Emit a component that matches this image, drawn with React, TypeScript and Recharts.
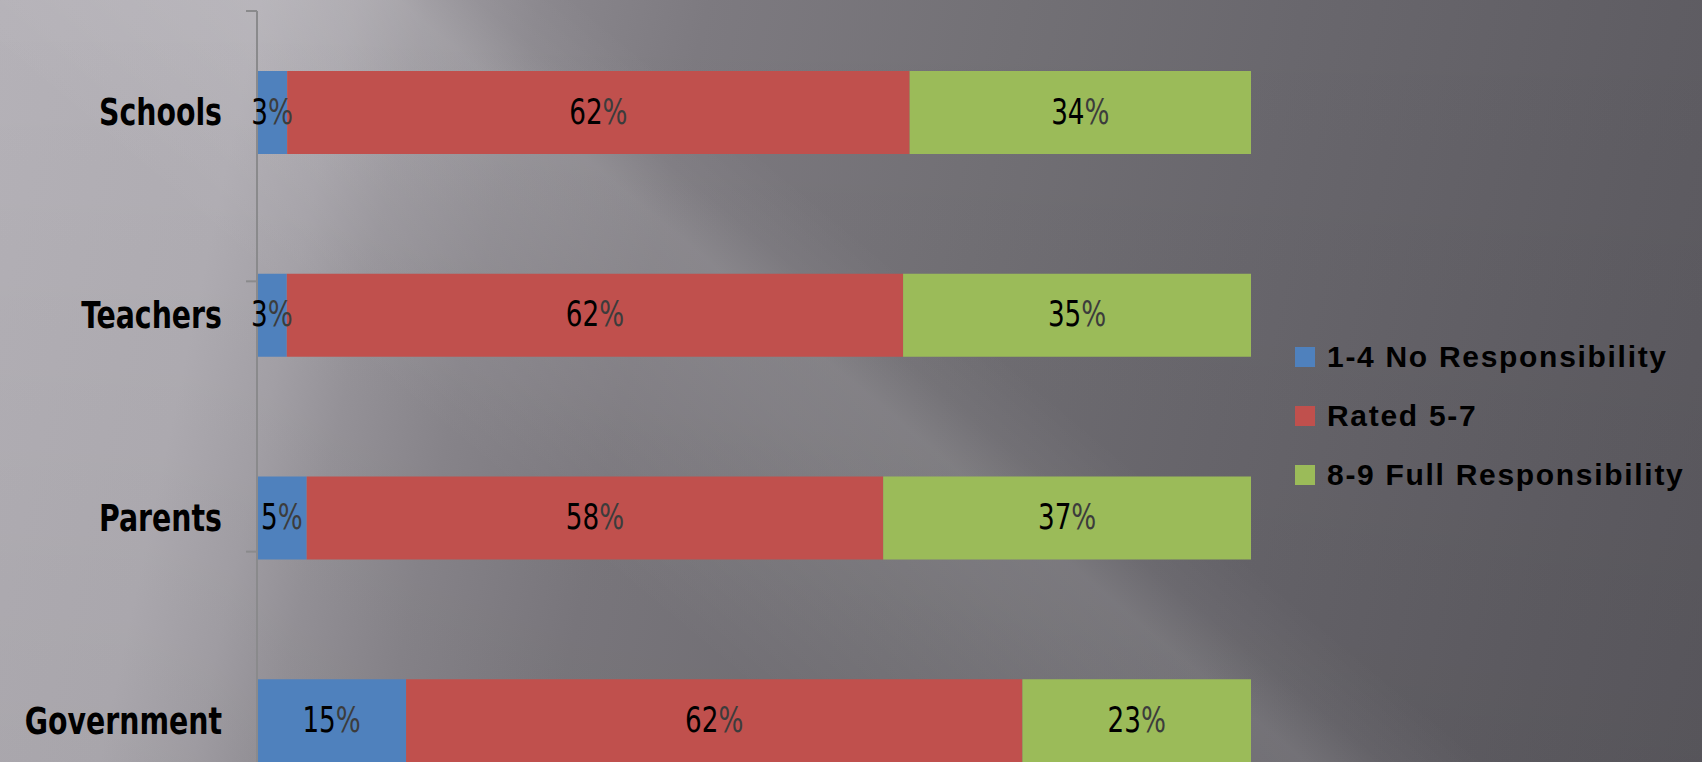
import React from "react";
import { BarChart, Bar, XAxis, YAxis, Legend, LabelList } from "recharts";

const categories = ["Schools", "Teachers", "Parents", "Government"];
const noResponsibility = [3, 3, 5, 15];
const rated57 = [62, 62, 58, 62];
const fullResponsibility = [34, 35, 37, 23];
const seriesNames = ["1-4 No Responsibility", "Rated 5-7", "8-9 Full Responsibility"];
const bandEdges = [0, 1, 2, 3, 4];

const data = categories.map((name, i) => ({
    name,
    low: noResponsibility[i],
    mid: rated57[i],
    high: fullResponsibility[i],
}));

const COND = "'DejaVu Sans Condensed', 'DejaVu Sans', sans-serif";

const CategoryTick = (props: any) => {
    const { x, y, payload } = props;
    return (
        <g transform={`translate(${x},${y})`}>
            <text
                transform="scale(0.83,1)"
                textAnchor="end"
                dominantBaseline="central"
                fill="#000"
                fontFamily={COND}
                fontWeight={700}
                fontSize={38}
            >
                {payload.value}
            </text>
        </g>
    );
};

const renderPct = (props: any) => {
    const { x, y, width, height, value } = props;
    const cx = Number(x) + Number(width) / 2;
    const cy = Number(y) + Number(height) / 2;
    return (
        <g transform={`translate(${cx},${cy})`}>
            <text
                transform="scale(0.81,1)"
                dy={-1}
                textAnchor="middle"
                dominantBaseline="central"
                fontFamily={COND}
                fontSize={36}
            >
                <tspan fill="#000">{value}</tspan>
                <tspan fill="#3c3c3c">%</tspan>
            </text>
        </g>
    );
};

const renderLegend = (props: any) => {
    const payload = props.payload || [];
    const items = seriesNames
        .map((n) => payload.find((p: any) => p.value === n))
        .filter(Boolean);
    return (
        <div>
            {items.map((it: any) => (
                <div
                    key={it.value}
                    style={{ display: "flex", alignItems: "center", height: 59 }}
                >
                    <span
                        style={{
                            display: "inline-block",
                            width: 20,
                            height: 20,
                            background: it.color,
                            marginRight: 12,
                        }}
                    />
                    <span
                        style={{
                            fontFamily: "'Liberation Sans', Arial, sans-serif",
                            fontWeight: 700,
                            fontSize: 30,
                            letterSpacing: 1.7,
                            color: "#000",
                            whiteSpace: "nowrap",
                        }}
                    >
                        {it.value}
                    </span>
                </div>
            ))}
        </div>
    );
};

export default function App() {
    return (
        <div
            style={{
                position: "fixed",
                left: 0,
                top: 0,
                width: 1702,
                height: 762,
                overflow: "hidden",
                background:
                    "linear-gradient(40deg, rgba(255,255,255,0) 0%, rgba(255,255,255,0) 32%, rgba(255,255,255,0.1) 46%, rgba(255,255,255,0.12) 50%, rgba(255,255,255,0.04) 53%, rgba(255,255,255,0) 57%, rgba(255,255,255,0) 100%), " +
                    "linear-gradient(180deg, rgba(0,0,0,0) 0%, rgba(0,0,0,0.05) 100%), " +
                    "linear-gradient(102deg, #b5b2b8 0%, #b1aeb4 14%, #a6a3a9 19%, #98959b 23%, #8a878d 29%, #7d7a80 38%, #727075 55%, #69676d 70%, #5f5d63 90%, #5b595f 100%)",
            }}
        >
            <BarChart
                layout="vertical"
                width={1702}
                height={840}
                data={data}
                stackOffset="expand"
                margin={{ top: 11, right: 44, bottom: 18, left: 0 }}
            >
                <XAxis type="number" hide />
                {/* axis line with ticks at the category band edges */}
                <YAxis
                    yAxisId="axisA"
                    type="number"
                    domain={[0, 4]}
                    ticks={bandEdges}
                    tickFormatter={() => ""}
                    tickSize={11}
                    tickLine={{ stroke: "#8a8a8c", strokeWidth: 2 }}
                    axisLine={{ stroke: "#8a8a8c", strokeWidth: 2 }}
                    width={1}
                />
                <YAxis
                    yAxisId="axisB"
                    type="category"
                    dataKey="name"
                    width={256}
                    axisLine={false}
                    tickLine={false}
                    tickSize={0}
                    tickMargin={34}
                    tick={<CategoryTick />}
                />
                <Legend
                    layout="vertical"
                    align="right"
                    verticalAlign="middle"
                    content={renderLegend}
                    wrapperStyle={{
                        left: 1295,
                        top: 327,
                        width: 407,
                        margin: 0,
                        padding: 0,
                    }}
                />
                <Bar
                    yAxisId="axisB"
                    dataKey="low"
                    name={seriesNames[0]}
                    stackId="a"
                    fill="#4f81bd"
                    barSize={83}
                    isAnimationActive={false}
                >
                    <LabelList dataKey="low" content={renderPct} />
                </Bar>
                <Bar
                    yAxisId="axisB"
                    dataKey="mid"
                    name={seriesNames[1]}
                    stackId="a"
                    fill="#c0504d"
                    barSize={83}
                    isAnimationActive={false}
                >
                    <LabelList dataKey="mid" content={renderPct} />
                </Bar>
                <Bar
                    yAxisId="axisB"
                    dataKey="high"
                    name={seriesNames[2]}
                    stackId="a"
                    fill="#9bbb59"
                    barSize={83}
                    isAnimationActive={false}
                >
                    <LabelList dataKey="high" content={renderPct} />
                </Bar>
            </BarChart>
        </div>
    );
}
